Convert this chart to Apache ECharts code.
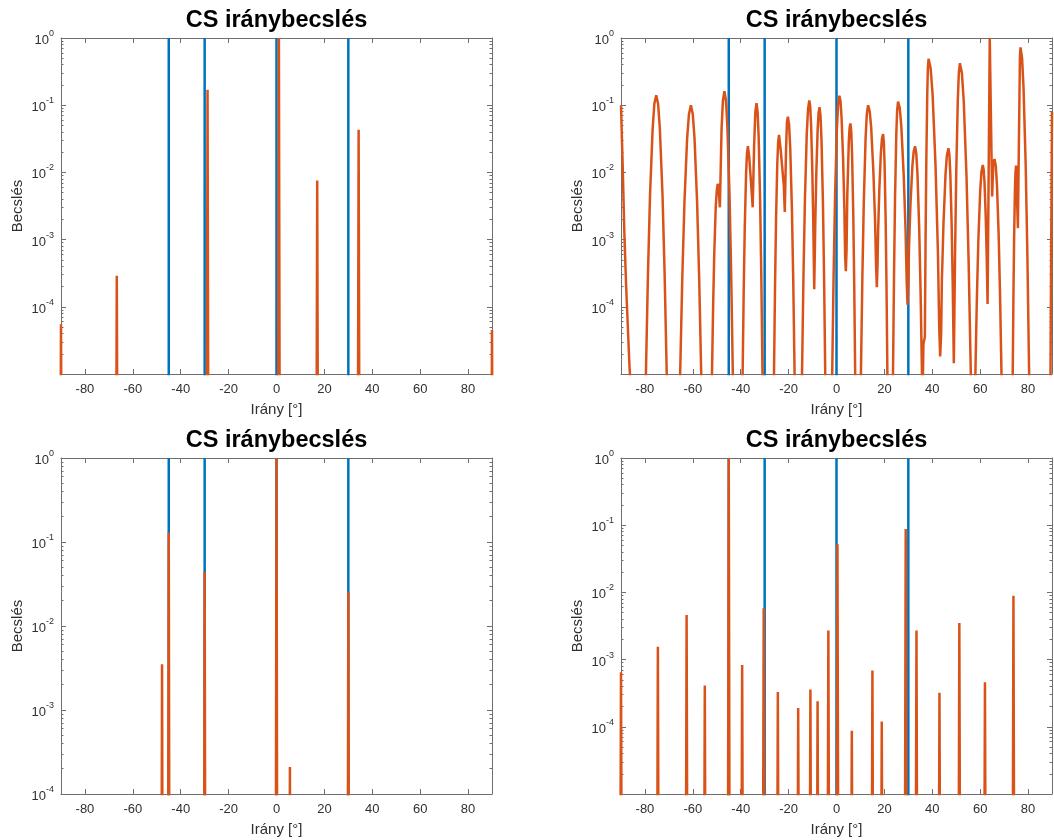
<!DOCTYPE html>
<html>
<head>
<meta charset="utf-8">
<script src="https://cdn.jsdelivr.net/npm/echarts@6/dist/echarts.min.js"></script>
<style>
html,body{margin:0;padding:0;background:#ffffff;}
#chart{width:1054px;height:840px;}
</style>
</head>
<body>
<div id="chart"></div>
<script>
// ---------------- data ----------------
const titleText = 'CS iránybecslés';
const xAxisName = 'Irány [°]';
const yAxisName = 'Becslés';
const xTickValues = [-80, -60, -40, -20, 0, 20, 40, 60, 80];

// true source directions (blue)
const trueAngles = [-45, -30, 0, 30];

// panel 1 (top-left): sparse estimate peaks
const p1PeakAngles = [-90, -66.7, -28.8, 1.0, 17.0, 34.3, 90];
const p1PeakValues = [5.5e-5, 2.9e-4, 0.17, 1.0, 7.6e-3, 0.043, 4.5e-5];

// panel 2 (top-right): dense estimate curve [angle, value]
const p2Curve = [
  [-90, 0.1], [-89.3, 0.0126], [-88.6, 0.00126], [-87.9, 2.24e-4], [-86.5, 1.41e-5], [-85.8, 5e-6], [-82.7, 1e-7],
  [-79.6, 1e-5], [-78.74, 3.09e-4], [-77.88, 4.57e-3], [-76.8, 0.0437], [-76.07, 0.105], [-75.3, 0.141],
  [-74.51, 0.105], [-73.76, 0.0437], [-72.66, 4.57e-3], [-71.78, 3.09e-4], [-70.9, 1e-5], [-68.2, 1e-7],
  [-65.3, 1e-5], [-64.4, 2.75e-4], [-63.5, 3.63e-3], [-62.38, 0.0324], [-61.61, 0.0741], [-60.8, 0.1],
  [-60.03, 0.0741], [-59.3, 0.0324], [-58.22, 3.63e-3], [-57.36, 2.75e-4], [-56.5, 1e-5], [-54.3, 1e-7],
  [-52.0, 1e-5], [-51.52, 1.05e-4], [-51.04, 6.46e-4], [-50.44, 3.02e-3], [-50.0, 5.37e-3], [-49.6, 6.76e-3],
  [-49.2, 5.62e-3], [-48.7, 3.02e-3], [-48.0, 0.0447], [-47.43, 0.1175], [-46.8, 0.162], [-46.17, 0.1175],
  [-45.58, 0.049], [-44.7, 4.9e-3], [-44.0, 3.31e-4], [-43.3, 1e-5], [-41.3, 1e-7],
  [-39.2, 1e-5], [-38.76, 1.66e-4], [-38.32, 1.48e-3], [-37.77, 9.33e-3], [-37.4, 0.0191], [-37.0, 0.0245],
  [-36.5, 0.0178], [-35.7, 7.08e-3], [-35.0, 3.02e-3], [-34.4, 0.0251], [-33.9, 0.0794], [-33.4, 0.107],
  [-32.95, 0.0794], [-32.52, 0.0347], [-31.9, 3.8e-3], [-31.4, 2.82e-4], [-30.9, 1e-5], [-28.6, 1e-7],
  [-26.1, 1e-5], [-25.68, 1.91e-4], [-25.26, 1.91e-3], [-24.74, 0.0132], [-24.38, 0.0275], [-24.0, 0.0363],
  [-23.5, 0.0251], [-23.2, 0.0195], [-22.6, 0.0186], [-22.0, 6.31e-3], [-21.6, 2.57e-3], [-21.1, 0.02],
  [-20.7, 0.0562], [-20.3, 0.0676], [-19.8, 0.0513], [-19.32, 0.0229], [-18.62, 2.82e-3], [-18.06, 2.4e-4],
  [-17.5, 1e-5], [-16.0, 1e-7],
  [-14.4, 1e-5], [-13.79, 2.95e-4], [-13.18, 3.98e-3], [-12.42, 0.0372], [-11.9, 0.0871], [-11.35, 0.1175],
  [-10.98, 0.0955], [-10.63, 0.0537], [-10.12, 0.0115], [-9.71, 1.86e-3], [-9.3, 1.82e-4], [-8.86, 1.74e-3],
  [-8.42, 0.01], [-7.87, 0.0437], [-7.5, 0.0759], [-7.1, 0.0933], [-6.67, 0.0692], [-6.26, 0.0302],
  [-5.66, 3.47e-3], [-5.18, 2.69e-4], [-4.7, 1e-5], [-3.0, 1e-7],
  [-1.8, 1e-5], [-1.2, 3.09e-4], [-0.6, 4.47e-3], [0.15, 0.0427], [0.66, 0.102], [1.2, 0.138], [1.67, 0.115],
  [2.11, 0.0661], [2.76, 0.0158], [3.28, 2.95e-3], [3.6, 5.62e-4], [3.9, 3.39e-4], [4.2, 7.08e-4],
  [4.5, 4.47e-3], [5.14, 0.0288], [5.46, 0.0457], [5.8, 0.0537], [6.16, 0.0407], [6.5, 0.0186],
  [7.0, 2.45e-3], [7.4, 2.19e-4], [7.8, 1e-5], [9.0, 1e-7],
  [10.2, 1e-5], [10.8, 2.75e-4], [11.4, 3.63e-3], [12.15, 0.0324], [12.66, 0.0741], [13.2, 0.1],
  [13.86, 0.0813], [14.48, 0.0468], [15.39, 0.0105], [16.12, 1.86e-3], [16.5, 4.47e-4], [16.85, 1.95e-4],
  [17.15, 4.47e-4], [17.37, 1.29e-3], [17.89, 5.62e-3], [18.54, 0.0195], [18.98, 0.0316], [19.45, 0.0372],
  [19.77, 0.0282], [20.08, 0.0135], [20.53, 1.91e-3], [20.89, 1.95e-4], [21.25, 1e-5], [22.5, 1e-7],
  [23.6, 1e-5], [24.02, 2.88e-4], [24.44, 3.98e-3], [24.97, 0.0363], [25.32, 0.0832], [25.7, 0.1135],
  [26.41, 0.0912], [27.08, 0.0479], [28.07, 9.12e-3], [28.86, 1.32e-3], [29.3, 2.51e-4], [29.65, 1.07e-4],
  [30.0, 2.24e-4], [30.28, 7.59e-4], [30.91, 3.47e-3], [31.7, 0.0126], [32.23, 0.0204], [32.8, 0.0245],
  [33.32, 0.0191], [33.82, 9.33e-3], [34.54, 1.48e-3], [35.12, 1.66e-4], [35.7, 1e-5], [36.0, 5e-6],
  [36.3, 2.82e-5], [36.9, 3.55e-5], [37.21, 1.1e-3], [37.52, 0.0158], [37.91, 0.151], [38.17, 0.363],
  [38.45, 0.49], [39.32, 0.355], [40.15, 0.141], [41.36, 0.0126], [42.33, 7.08e-4], [42.9, 5e-5],
  [43.3, 1.82e-5], [43.7, 3.98e-5], [44.0, 2.4e-4], [44.68, 1.74e-3], [45.54, 9.55e-3], [46.13, 0.0182],
  [46.75, 0.0229], [47.16, 0.0182], [47.54, 9.33e-3], [48.1, 1.62e-3], [48.55, 2.04e-4], [49.0, 1.45e-5],
  [49.51, 5.75e-4], [50.02, 0.0105], [50.66, 0.12], [51.09, 0.302], [51.55, 0.422], [52.37, 0.302],
  [53.14, 0.115], [54.28, 9.12e-3], [55.19, 4.57e-4], [56.1, 1e-5], [57.0, 1e-6],
  [58.0, 1e-5], [58.62, 1.32e-4], [59.24, 9.77e-4], [60.02, 5.37e-3], [60.54, 0.0102], [61.1, 0.0129],
  [61.46, 0.011], [61.8, 7.24e-3], [62.3, 2.34e-3], [62.7, 6.17e-4], [63.1, 1.1e-4], [64.0, 1.0],
  [65.0, 4.37e-3], [65.5, 0.0141], [66.0, 0.0158], [66.52, 0.0126], [67.02, 6.46e-3], [67.74, 1.12e-3],
  [68.32, 1.41e-4], [68.9, 1e-5], [71.2, 1e-7],
  [73.6, 1e-5], [73.88, 1.32e-4], [74.16, 9.55e-4], [74.51, 5.25e-3], [74.75, 0.01], [75.0, 0.0126],
  [75.75, 1.48e-3], [76.6, 0.501], [76.85, 0.724], [77.5, 0.501], [78.11, 0.182], [79.01, 0.0129],
  [79.73, 5.62e-4], [80.45, 1e-5], [85.0, 1e-7],
  [89.3, 3.16e-6], [89.65, 6.31e-4], [90.0, 0.0794]
];

// panel 3 (bottom-left): sparse estimate peaks
const p3PeakAngles = [-47.8, -45.0, -30.0, 0.0, 5.6, 30.0];
const p3PeakValues = [3.5e-3, 0.13, 0.044, 1.0, 2.1e-4, 0.0256];

// panel 4 (bottom-right): sparse estimate peaks
const p4PeakAngles = [-90, -74.6, -62.6, -55.0, -45.0, -39.4, -30.4, -24.5, -16.0, -10.9, -7.9, -3.4,
                      0.4, 6.4, 15.0, 18.9, 28.9, 33.4, 43.0, 51.3, 62.0, 73.9];
const p4PeakValues = [6.5e-4, 1.55e-3, 4.6e-3, 4.1e-4, 1.0, 8.3e-4, 5.8e-3, 3.3e-4, 1.9e-4, 3.6e-4, 2.4e-4, 2.7e-3,
                      0.052, 8.7e-5, 6.9e-4, 1.2e-4, 0.088, 2.7e-3, 3.2e-4, 3.5e-3, 4.6e-4, 8.9e-3];

// "zero" level of sparse vectors (far below visible range)
const FLOOR = 1e-9;
const SPIKE_STEP = 0.5;

// ---------------- helpers ----------------
function spikeLine(angles, values) {
  const out = [];
  angles.forEach((a, i) => {
    out.push([a - SPIKE_STEP, FLOOR]);
    out.push([a, values[i]]);
    out.push([a + SPIKE_STEP, FLOOR]);
  });
  return out;
}
function trueLine(angles) {
  const out = [];
  angles.forEach(a => { out.push([a, FLOOR]); out.push([a, 1]); out.push([a, FLOOR]); });
  return out;
}

const BLUE = '#0072BD';
const ORANGE = '#D95319';
const AXC = '#6f6f6f';
const TXC = '#303030';
const FONT = '"Liberation Sans", Arial, Helvetica, sans-serif';
const W = 431, H = 336;

const panels = [
  { left: 61,  top: 38,  ymin: 1e-5, decades: 5, hideMin: true,  est: spikeLine(p1PeakAngles, p1PeakValues) },
  { left: 621, top: 38,  ymin: 1e-5, decades: 5, hideMin: true,  est: p2Curve },
  { left: 61,  top: 458, ymin: 1e-4, decades: 4, hideMin: false, est: spikeLine(p3PeakAngles, p3PeakValues) },
  { left: 621, top: 458, ymin: 1e-5, decades: 5, hideMin: true,  est: spikeLine(p4PeakAngles, p4PeakValues) }
];

const grid = [], xAxis = [], yAxis = [], series = [], title = [];

panels.forEach((p, i) => {
  grid.push({ left: p.left, top: p.top, width: W, height: H, containLabel: false });
  title.push({
    text: titleText, left: p.left + W / 2, top: p.top - 29, textAlign: 'center', padding: 0,
    textStyle: { fontSize: 23.5, fontWeight: 'bold', color: '#000000', fontFamily: FONT }
  });
  const lo = Math.log10(p.ymin);
  const minorVals = [];
  for (let e = lo; e < 0; e++) for (let k = 2; k <= 9; k++) minorVals.push(e + Math.log10(k));

  const xBase = {
    gridIndex: i, type: 'value', min: -90, max: 90,
    splitLine: { show: false },
    axisLine: { show: true, onZero: false, lineStyle: { color: AXC, width: 1 } },
    axisTick: { show: true, inside: true, length: 5, customValues: xTickValues, lineStyle: { color: AXC, width: 1 } }
  };
  xAxis.push(Object.assign({}, xBase, {
    position: 'bottom',
    axisLabel: { show: true, customValues: xTickValues, color: TXC, fontSize: 13, fontFamily: FONT, margin: 9 },
    name: xAxisName, nameLocation: 'middle', nameGap: 28,
    nameTextStyle: { fontSize: 15, color: TXC, fontFamily: FONT }
  }));
  xAxis.push(Object.assign({}, xBase, { position: 'top', axisLabel: { show: false } }));

  const yBase = {
    gridIndex: i, type: 'log', logBase: 10, min: p.ymin, max: 1, splitNumber: p.decades,
    splitLine: { show: false }, minorTick: { show: false },
    axisLine: { show: true, onZero: false, lineStyle: { color: AXC, width: 1 } },
    axisTick: { show: true, inside: true, length: 5, lineStyle: { color: AXC, width: 1 } }
  };
  yAxis.push(Object.assign({}, yBase, {
    position: 'left',
    axisLabel: {
      show: true, margin: 7, color: TXC, fontFamily: FONT,
      formatter: function (v) {
        const e = Math.round(Math.log10(v));
        if (p.hideMin && e === lo) return '';
        return '{b|10}{s|' + e + '}';
      },
      rich: {
        b: { fontSize: 13, color: TXC, fontFamily: FONT, lineHeight: 18, verticalAlign: 'bottom' },
        s: { fontSize: 9, color: TXC, fontFamily: FONT, verticalAlign: 'top' }
      }
    },
    name: yAxisName, nameLocation: 'middle', nameGap: 36,
    nameTextStyle: { fontSize: 15, color: TXC, fontFamily: FONT }
  }));
  yAxis.push(Object.assign({}, yBase, { position: 'right', axisLabel: { show: false } }));
  const minorBase = {
    gridIndex: i, type: 'value', min: lo, max: 0,
    splitLine: { show: false }, axisLabel: { show: false },
    axisLine: { show: false, onZero: false },
    axisTick: { show: true, inside: true, length: 2.5, customValues: minorVals, lineStyle: { color: AXC, width: 1 } }
  };
  yAxis.push(Object.assign({}, minorBase, { position: 'left' }));
  yAxis.push(Object.assign({}, minorBase, { position: 'right' }));

  series.push({
    type: 'line', xAxisIndex: 2 * i, yAxisIndex: 4 * i, data: trueLine(trueAngles),
    showSymbol: false, symbol: 'none', clip: true, silent: true,
    lineStyle: { color: BLUE, width: 2.5 }, z: 2
  });
  series.push({
    type: 'line', xAxisIndex: 2 * i, yAxisIndex: 4 * i, data: p.est,
    showSymbol: false, symbol: 'none', clip: true, silent: true,
    lineStyle: { color: ORANGE, width: 2.5 }, z: 3
  });
});

const chart = echarts.init(document.getElementById('chart'), null, { renderer: 'canvas' });
chart.setOption({
  animation: false,
  backgroundColor: '#ffffff',
  title, grid, xAxis, yAxis, series
});
</script>
</body>
</html>
